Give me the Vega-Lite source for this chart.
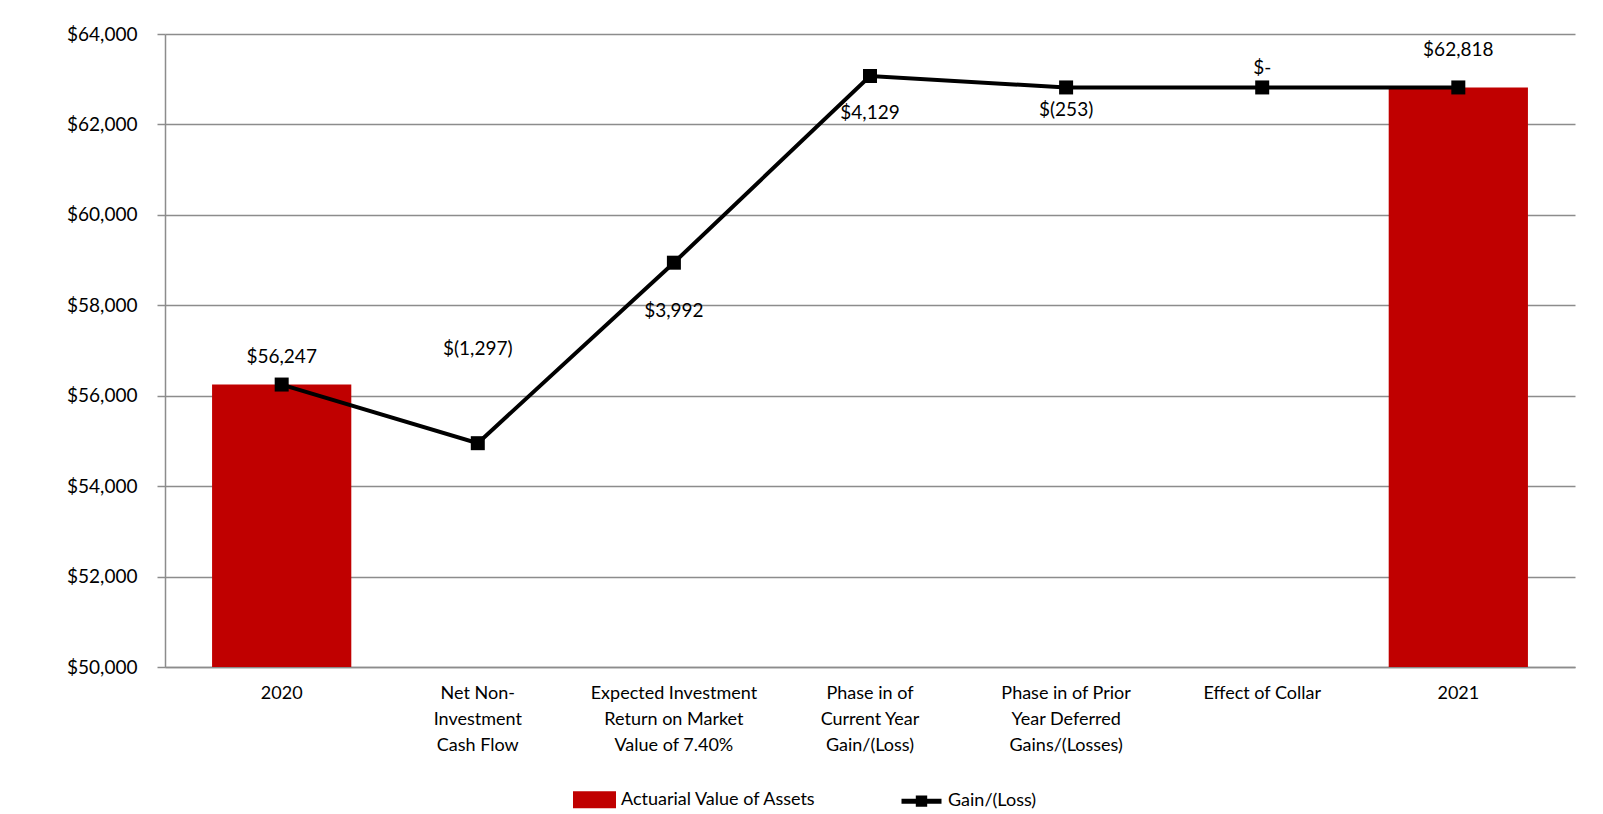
{
  "$schema": "https://vega.github.io/schema/vega-lite/v6.json",
  "autosize": "none",
  "width": 1410,
  "height": 633,
  "padding": {"left": 165, "top": 34, "right": 28, "bottom": 147},
  "background": "white",
  "config": {"view": {"stroke": null}, "font": "Lato"},
  "datasets": {
    "assets": [
      {"category": "2020", "series": "Actuarial Value of Assets", "value": 56247},
      {"category": "2021", "series": "Actuarial Value of Assets", "value": 62818}
    ],
    "cumulative": [
      {"category": "2020", "series": "Gain/(Loss)", "value": 56247},
      {"category": "Net Non-Investment Cash Flow", "series": "Gain/(Loss)", "value": 54950},
      {"category": "Expected Investment Return on Market Value of 7.40%", "series": "Gain/(Loss)", "value": 58942},
      {"category": "Phase in of Current Year Gain/(Loss)", "series": "Gain/(Loss)", "value": 63071},
      {"category": "Phase in of Prior Year Deferred Gains/(Losses)", "series": "Gain/(Loss)", "value": 62818},
      {"category": "Effect of Collar", "series": "Gain/(Loss)", "value": 62818},
      {"category": "2021", "series": "Gain/(Loss)", "value": 62818}
    ],
    "labels": [
      {"category": "2020", "text": "$56,247", "label_y": 56856},
      {"category": "Net Non-Investment Cash Flow", "text": "$(1,297)", "label_y": 57033},
      {"category": "Expected Investment Return on Market Value of 7.40%", "text": "$3,992", "label_y": 57874},
      {"category": "Phase in of Current Year Gain/(Loss)", "text": "$4,129", "label_y": 62253},
      {"category": "Phase in of Prior Year Deferred Gains/(Losses)", "text": "$(253)", "label_y": 62319},
      {"category": "Effect of Collar", "text": "$-", "label_y": 63248},
      {"category": "2021", "text": "$62,818", "label_y": 63646}
    ]
  },
  "encoding": {
    "x": {
      "field": "category",
      "type": "nominal",
      "sort": null,
      "scale": {
        "domain": ["2020", "Net Non-Investment Cash Flow", "Expected Investment Return on Market Value of 7.40%", "Phase in of Current Year Gain/(Loss)", "Phase in of Prior Year Deferred Gains/(Losses)", "Effect of Collar", "2021"],
        "paddingInner": 0.29,
        "paddingOuter": 0.24
      },
      "axis": {
        "title": null,
        "labelAngle": 0,
        "ticks": false,
        "domainColor": "#8c8c8c",
        "domainWidth": 1.5,
        "labelFontSize": 18,
        "labelColor": "#000000",
        "labelLineHeight": 26,
        "labelPadding": 17,
        "labelBaseline": "top",
        "labelLimit": 300,
        "labelOverlap": false,
        "labelExpr": "({'Net Non-Investment Cash Flow': ['Net Non-', 'Investment', 'Cash Flow'], 'Expected Investment Return on Market Value of 7.40%': ['Expected Investment', 'Return on Market', 'Value of 7.40%'], 'Phase in of Current Year Gain/(Loss)': ['Phase in of', 'Current Year', 'Gain/(Loss)'], 'Phase in of Prior Year Deferred Gains/(Losses)': ['Phase in of Prior', 'Year Deferred', 'Gains/(Losses)']})[datum.label] || datum.label"
      }
    }
  },
  "layer": [
    {
      "data": {"name": "assets"},
      "mark": {"type": "bar", "clip": true},
      "encoding": {
        "y": {
          "field": "value",
          "type": "quantitative",
          "scale": {"domain": [50000, 64000], "zero": false, "nice": false},
          "axis": {
            "title": null,
            "values": [50000, 52000, 54000, 56000, 58000, 60000, 62000, 64000],
            "format": "$,.0f",
            "grid": true,
            "gridColor": "#8c8c8c",
            "gridWidth": 1.5,
            "domainColor": "#8c8c8c",
            "domainWidth": 1.5,
            "tickColor": "#8c8c8c",
            "tickWidth": 1.5,
            "tickSize": 8,
            "labelPadding": 20,
            "labelFontSize": 19,
            "labelColor": "#000000"
          }
        },
        "y2": {"datum": 50000},
        "color": {
          "field": "series",
          "type": "nominal",
          "scale": {"domain": ["Actuarial Value of Assets", "Gain/(Loss)"], "range": ["#C00000", "#000000"]},
          "legend": {
            "title": null,
            "orient": "none",
            "legendX": 407,
            "legendY": 743,
            "direction": "horizontal",
            "labelFontSize": 18,
            "labelColor": "#000000",
            "labelLimit": 400,
            "symbolSize": 1600,
            "symbolStrokeWidth": 4,
            "labelOffset": 4,
            "columnPadding": 74,
            "encode": {
              "symbols": {
                "update": {
                  "shape": {"signal": "datum.value === 'Gain/(Loss)' ? 'M-1,0H1M-0.16,-0.16H0.16V0.16H-0.16Z' : 'M-0.95,-0.3H0.95V0.3H-0.95Z'"},
                  "fill": {"signal": "datum.value === 'Gain/(Loss)' ? '#000000' : '#C00000'"},
                  "stroke": {"signal": "datum.value === 'Gain/(Loss)' ? '#000000' : 'transparent'"},
                  "strokeWidth": {"value": 5},
                  "opacity": {"value": 1}
                }
              }
            }
          }
        }
      }
    },
    {
      "data": {"name": "cumulative"},
      "mark": {"type": "line", "strokeWidth": 4, "point": {"shape": "square", "size": 196, "filled": true, "opacity": 1}},
      "encoding": {
        "y": {"field": "value", "type": "quantitative"},
        "color": {"field": "series", "type": "nominal"}
      }
    },
    {
      "data": {"name": "labels"},
      "mark": {"type": "text", "fontSize": 19, "color": "#000000", "baseline": "middle", "align": "center"},
      "encoding": {
        "y": {"field": "label_y", "type": "quantitative"},
        "text": {"field": "text", "type": "nominal"}
      }
    }
  ]
}
